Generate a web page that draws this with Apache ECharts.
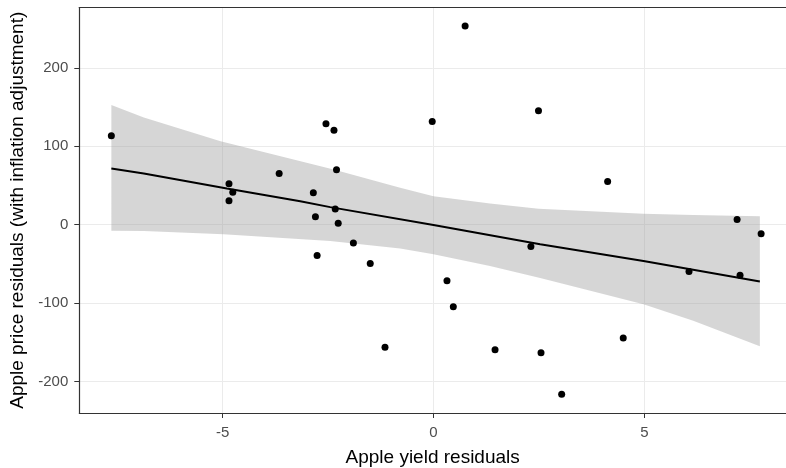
<!DOCTYPE html>
<html>
<head>
<meta charset="utf-8">
<script src="https://cdn.jsdelivr.net/npm/echarts@6/dist/echarts.min.js"></script>
<style>
html,body{margin:0;padding:0;background:#fff;}
#chart{width:786px;height:468px;}
</style>
</head>
<body>
<div id="chart"></div>
<script>
// Scatter points (Apple yield residuals, Apple price residuals)
const pointsX = [-7.64,-4.85,-4.76,-4.85,-3.66,-2.85,-2.80,-2.55,-2.36,-2.30,-2.33,-2.26,
                 -2.76,-1.90,-1.50,-1.15,
                 0.75,-0.03,2.49,4.13,7.20,7.77,
                 2.31,0.32,0.47,1.46,2.55,3.04,4.50,6.06,7.27];
const pointsY = [113.6,52.2,41.5,30.5,65.3,40.7,10.2,128.9,120.4,70.0,19.9,1.7,
                 -39.4,-23.4,-49.6,-156.5,
                 253.6,131.8,145.4,55.1,6.7,-11.5,
                 -28.0,-71.7,-104.8,-159.5,-163.3,-216.3,-144.7,-59.8,-64.5];

// Fitted line
const lineX = [-7.64,-6.87,-4.90,-3.16,-2.45,0,2.53,4.98,7.74];
const lineY = [71.6,65.3,46.2,30.0,22.4,-0.5,-25.1,-46.3,-72.5];

// Confidence band edges
const upperX = [-7.64,-6.87,-5.05,-2.37,-0.79,0,1.34,2.49,4.11,4.98,6.16,7.74];
const upperY = [152.7,136.9,106.4,70.4,47.0,36.4,27.1,20.4,16.1,14.0,12.2,10.9];
const lowerX = [-7.64,-6.87,-4.98,-2.45,-0.79,0,1.34,2.53,4.98,6.16,7.74];
const lowerY = [-7.6,-8.1,-12.3,-20.8,-30.5,-37.8,-52.6,-68.0,-101.4,-122.6,-155.2];

// Tick labels
const xTicks = [-5,0,5];
const yTicks = [-200,-100,0,100,200];

const FONT = 'Liberation Sans, Arial, sans-serif';

const chart = echarts.init(document.getElementById('chart'), null, {renderer:'canvas'});

const scatterData = pointsX.map((x,i)=>[x,pointsY[i]]);
const lineData = lineX.map((x,i)=>[x,lineY[i]]);

const XMIN = -8.4, XMAX = 8.36;

const option = {
  animation:false,
  backgroundColor:'#fff',
  grid:{
    left:79.3, top:7.5, right:0, height:405.5,
    show:false, containLabel:false, outerBoundsMode:'none'
  },
  xAxis:[{
    type:'value', min:XMIN, max:XMAX, interval:2.5, position:'bottom',
    name:'Apple yield residuals', nameLocation:'middle', nameGap:35,
    nameTextStyle:{color:'#000', fontSize:19, fontFamily:FONT},
    axisLine:{show:true, onZero:false, lineStyle:{color:'#333333', width:1.2}},
    axisTick:{show:true, customValues:xTicks, length:5, lineStyle:{color:'#333333', width:1}},
    axisLabel:{customValues:xTicks, color:'#4d4d4d', fontSize:15, fontFamily:FONT, margin:12},
    splitLine:{show:true, lineStyle:{color:'#ebebeb', width:1}}
  },{
    type:'value', min:XMIN, max:XMAX, position:'top',
    axisLine:{show:true, onZero:false, lineStyle:{color:'#333333', width:1.2}},
    axisTick:{show:false}, axisLabel:{show:false}, splitLine:{show:false}
  }],
  yAxis:{
    type:'value', min:-240.3, max:277.1, interval:50,
    name:'Apple price residuals (with inflation adjustment)', nameLocation:'middle', nameGap:41,
    nameTextStyle:{color:'#000', fontSize:19, fontFamily:FONT},
    axisLine:{show:true, onZero:false, lineStyle:{color:'#333333', width:1.2}},
    axisTick:{show:true, customValues:yTicks, length:5, lineStyle:{color:'#333333', width:1}},
    axisLabel:{customValues:yTicks, color:'#4d4d4d', fontSize:15, fontFamily:FONT, margin:11},
    splitLine:{show:true, lineStyle:{color:'#ebebeb', width:1}}
  },
  series:[
    {
      type:'scatter', data:scatterData, symbolSize:7,
      itemStyle:{color:'#000000', opacity:1}, silent:true
    },
    {
      type:'custom', data:[[0,0]], silent:true, clip:true,
      renderItem:function(params, api){
        const pts = [];
        for(let i=0;i<upperX.length;i++) pts.push(api.coord([upperX[i],upperY[i]]));
        for(let i=lowerX.length-1;i>=0;i--) pts.push(api.coord([lowerX[i],lowerY[i]]));
        return {type:'polygon', shape:{points:pts}, style:{fill:'rgba(153,153,153,0.4)'}};
      }
    },
    {
      type:'line', data:lineData, showSymbol:false, silent:true,
      lineStyle:{color:'#000000', width:2}
    }
  ]
};
chart.setOption(option);
</script>
</body>
</html>
